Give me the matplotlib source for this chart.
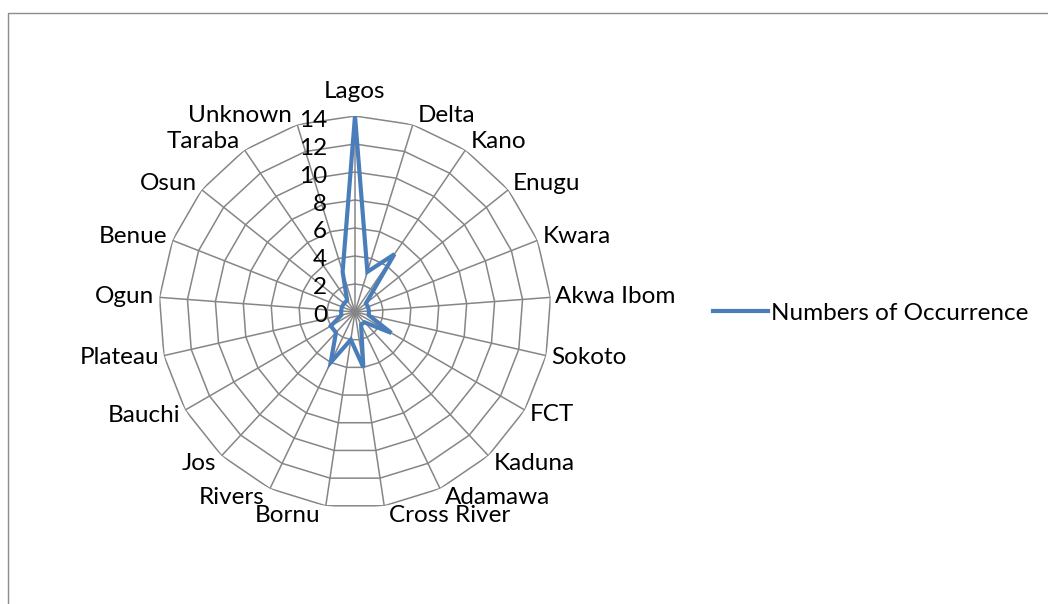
import numpy as np
import matplotlib
matplotlib.use("Agg")
from matplotlib import pyplot as plt
from matplotlib.patches import Rectangle

STATES = ["Lagos", "Delta", "Kano", "Enugu", "Kwara", "Akwa Ibom", "Sokoto", "FCT",
	"Kaduna", "Adamawa", "Cross River", "Bornu", "Rivers", "Jos", "Bauchi", "Plateau",
	"Ogun", "Benue", "Osun", "Taraba", "Unknown"]
OCCURRENCES = [14, 3, 5, 1, 1, 1, 1, 3, 1, 1, 4, 2, 4, 2, 2, 1, 1, 1, 1, 1, 3]
RINGS = [2, 4, 6, 8, 10, 12, 14]
TICKS = [0, 2, 4, 6, 8, 10, 12, 14]
SERIES = "Numbers of Occurrence"

GRID = "#868686"
BLUE = "#4A7EBB"
FONT = "Lato"
FS = 17.5
PX = 0.72  # points per pixel at dpi 100

plt.rcParams["font.family"] = [FONT, "DejaVu Sans"]

fig = plt.figure(figsize=(10.48, 6.04), dpi=100)
fig.patches.append(Rectangle((8 / 1048, -0.1), 1.2, 1 - 13 / 604 + 0.1, transform=fig.transFigure,
	fill=False, edgecolor="#8c8c8c", linewidth=1.0))

ax = fig.add_axes([(355 - 196) / 1048, (604 - 312 - 196) / 604, 392 / 1048, 392 / 604], projection="polar")
ax.set_theta_zero_location("N")
ax.set_theta_direction(-1)
ax.set_ylim(0, 14)
ax.grid(False)
ax.spines["polar"].set_visible(False)
ax.set_xticks([])
ax.set_yticks([])
ax.patch.set_alpha(0)

theta = np.arange(len(STATES)) * 2 * np.pi / len(STATES)
closed = np.append(theta, theta[0])

for r in RINGS:
	ax.plot(closed, [r] * len(closed), color=GRID, linewidth=1.1, zorder=1)
for t in theta:
	ax.plot([t, t], [0, RINGS[-1]], color=GRID, linewidth=1.1, zorder=1)

line, = ax.plot(closed, OCCURRENCES + OCCURRENCES[:1], color=BLUE, linewidth=3.0,
	solid_joinstyle="miter", zorder=3, label=SERIES)

for t, name in zip(theta, STATES):
	s, c = np.sin(t), np.cos(t)
	if abs(s) < 0.05:
		ha, dx, dy = "center", 0, 25
	else:
		ha = "left" if s > 0 else "right"
		dx, dy = 5 * np.sign(s), 10 * c
	ax.annotate(name, xy=(t, RINGS[-1]), xytext=(dx * PX, dy * PX), textcoords="offset points",
		ha=ha, va="center", fontsize=FS, annotation_clip=False)

for v in TICKS:
	ax.annotate(str(v), xy=(0, v), xytext=(-28 * PX, -4 * PX), textcoords="offset points",
		ha="right", va="center", fontsize=FS, annotation_clip=False)

fig.legend(handles=[line], loc="center left", bbox_to_anchor=(713 / 1048, 1 - 313 / 604),
	frameon=False, fontsize=FS, handlelength=2.26, handletextpad=0.12, borderpad=0, borderaxespad=0)

fig.savefig("out.png", dpi=100)
